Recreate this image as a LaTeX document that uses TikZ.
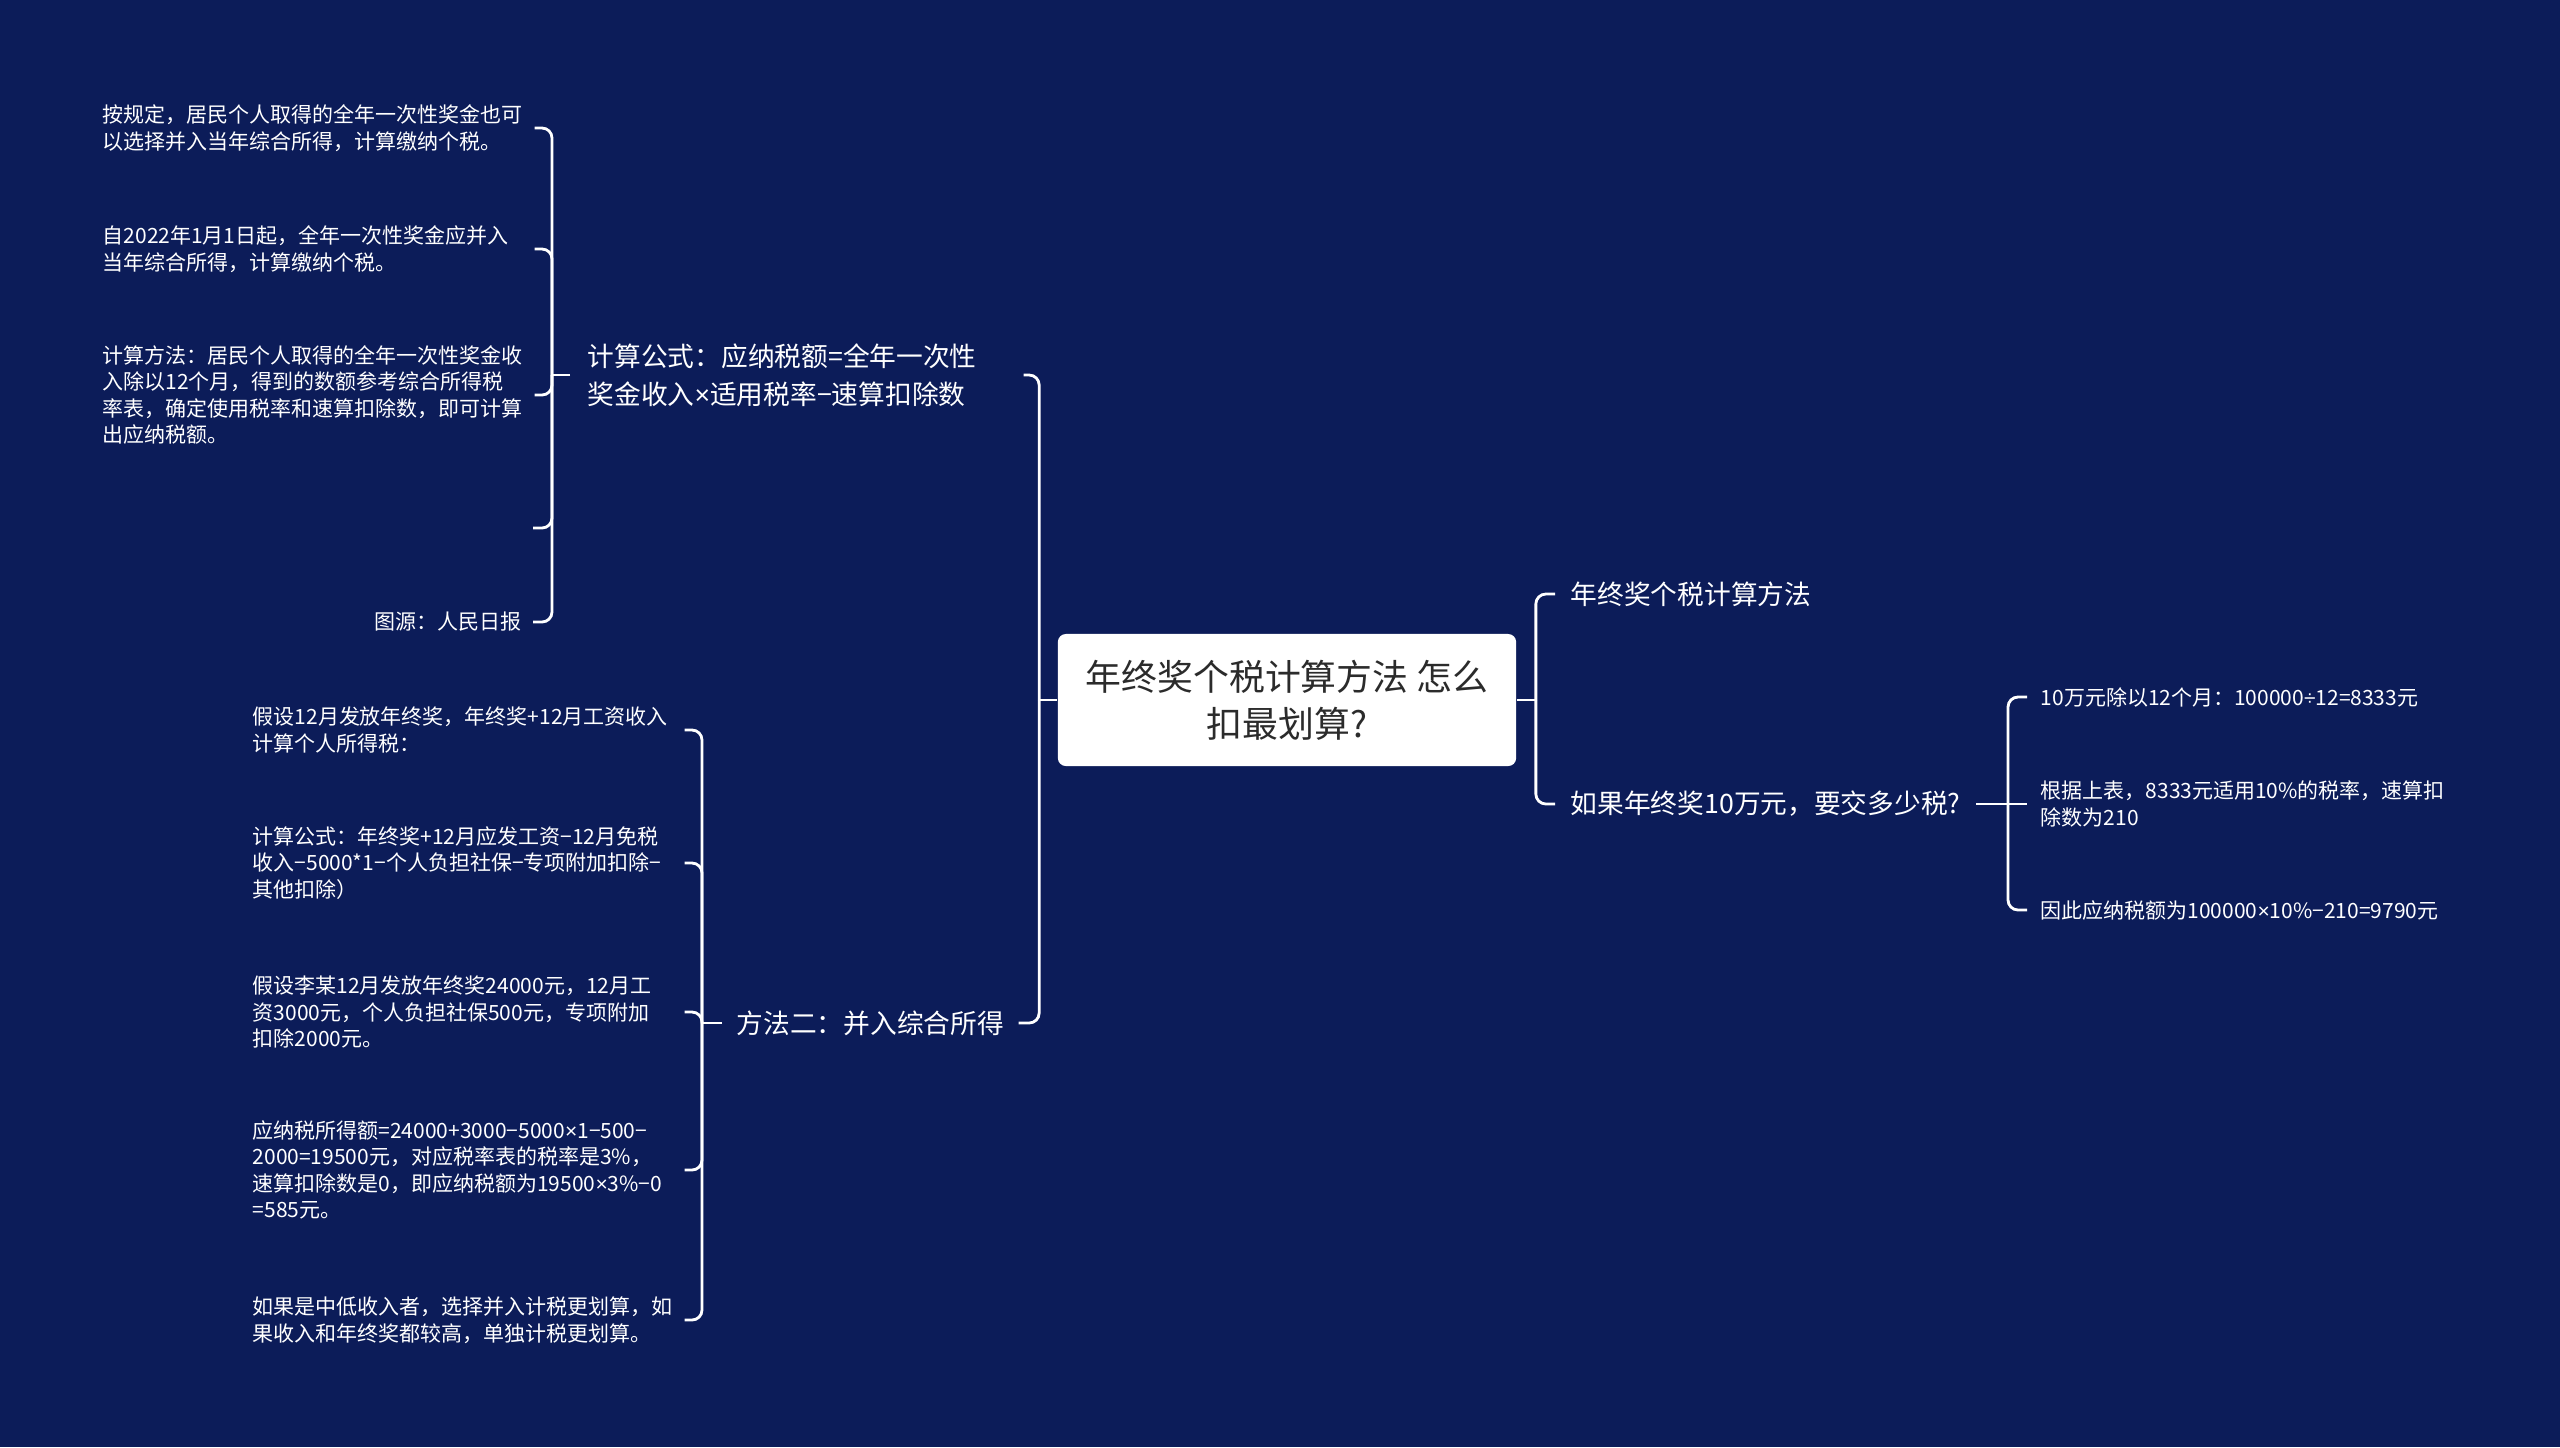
\documentclass[tikz,border=0pt]{standalone}
\usepackage{fontspec}
\setmainfont{Noto Sans CJK SC}
\newfontfamily\latinfont{Liberation Sans}
\newcommand\timesign{{\latinfont ×}}
\newcommand\divsign{{\latinfont ÷}}
\usetikzlibrary{positioning}
\definecolor{bgnavy}{HTML}{0C1C59}
\definecolor{rootgray}{HTML}{2B2B2B}
\tikzset{
  link/.style={draw=white,line width=0.8pt,rounded corners=0.1cm},
  rootnode/.style={fill=white,rounded corners=0.08cm,minimum width=4.58cm,minimum height=1.32cm,inner sep=0pt,align=center,text=rootgray,font=\fontsize{10.2pt}{13.4pt}\selectfont},
  branchnode/.style={text=white,inner xsep=0.15cm,inner ysep=0pt,align=left,font=\fontsize{7.6pt}{10.8pt}\selectfont},
  leafnode/.style={text=white,inner xsep=0.11cm,inner ysep=0pt,align=left,font=\fontsize{5.97pt}{7.54pt}\selectfont},
}

\begin{document}
\begin{tikzpicture}[x=0.01cm,y=-0.01cm]

\fill[bgnavy] (0,0) rectangle (2560,1447);
\useasboundingbox (0,0) rectangle (2560,1447);

\node[rootnode] (root) at (1287,700) {年终奖个税计算方法 怎么\\扣最划算?};

% first level
\node[branchnode,text width=4.18cm,inner xsep=0.17cm,anchor=west] (calc) at (570,375) {计算公式：应纳税额=全年一次性\\奖金收入\timesign 适用税率−速算扣除数};
\node[branchnode,inner xsep=0.14cm,anchor=west] (merge) at (722,1023) {方法二：并入综合所得};
\node[branchnode,anchor=west] (method) at (1555,594) {年终奖个税计算方法};
\node[branchnode,anchor=west] (ask) at (1555,804) {如果年终奖10万元，要交多少税?};

% leaves
\node[leafnode,text width=4.2cm,anchor=west] (law) at (91,128) {按规定，居民个人取得的全年一次性奖金也可\\以选择并入当年综合所得，计算缴纳个税。};
\node[leafnode,text width=4.2cm,anchor=west] (reform) at (91,249) {自2022年1月1日起，全年一次性奖金应并入\\当年综合所得，计算缴纳个税。};
\node[leafnode,text width=4.2cm,anchor=west] (way) at (91,395) {计算方法：居民个人取得的全年一次性奖金收\\入除以12个月，得到的数额参考综合所得税\\率表，确定使用税率和速算扣除数，即可计算\\出应纳税额。};
\coordinate (table) at (533,528);
\node[leafnode,anchor=east] (source) at (533,622) {图源：人民日报};

\node[leafnode,text width=4.2cm,anchor=west] (assume) at (241,730) {假设12月发放年终奖，年终奖+12月工资收入\\计算个人所得税：};
\node[leafnode,text width=4.2cm,anchor=west] (formula) at (241,863) {计算公式：年终奖+12月应发工资−12月免税\\收入−5000*1−个人负担社保−专项附加扣除−\\其他扣除）};
\node[leafnode,text width=4.2cm,anchor=west] (example) at (241,1012) {假设李某12月发放年终奖24000元，12月工\\资3000元，个人负担社保500元，专项附加\\扣除2000元。};
\node[leafnode,text width=4.2cm,anchor=west] (result) at (241,1170) {应纳税所得额=24000+3000−5000\timesign 1−500−\\2000=19500元，对应税率表的税率是3\%，\\速算扣除数是0，即应纳税额为19500\timesign 3\%−0\\=585元。};
\node[leafnode,text width=4.2cm,anchor=west] (advice) at (241,1320) {如果是中低收入者，选择并入计税更划算，如\\果收入和年终奖都较高，单独计税更划算。};

\node[leafnode,inner xsep=0.13cm,anchor=west] (divide) at (2027,697) {10万元除以12个月：100000\divsign 12=8333元};
\node[leafnode,inner xsep=0.13cm,anchor=west] (rate) at (2027,804) {根据上表，8333元适用10\%的税率，速算扣\\除数为210};
\node[leafnode,inner xsep=0.13cm,anchor=west] (total) at (2027,910) {因此应纳税额为100000\timesign 10\%−210=9790元};

% connectors
\draw[link] (root.west) -- ++(-18,0) coordinate (lfork);
\foreach \n in {calc,merge} \draw[link] (lfork) |- (\n.east);
\draw[link] (root.east) -- ++(19,0) coordinate (rfork);
\foreach \n in {method,ask} \draw[link] (rfork) |- (\n.west);

\draw[link] (calc.west) -- ++(-18,0) coordinate (cfork);
\foreach \n in {law,reform,way,source} \draw[link] (cfork) |- (\n.east);
\draw[link] (cfork) |- (table);

\draw[link] (merge.west) -- ++(-20,0) coordinate (mfork);
\foreach \n in {assume,formula,example,result,advice} \draw[link] (mfork) |- (\n.east);

\draw[link] (ask.east) -- (rate.west);
\path (rate.west) ++(-19,0) coordinate (afork);
\foreach \n in {divide,total} \draw[link] (afork) |- (\n.west);

\end{tikzpicture}
\end{document}
